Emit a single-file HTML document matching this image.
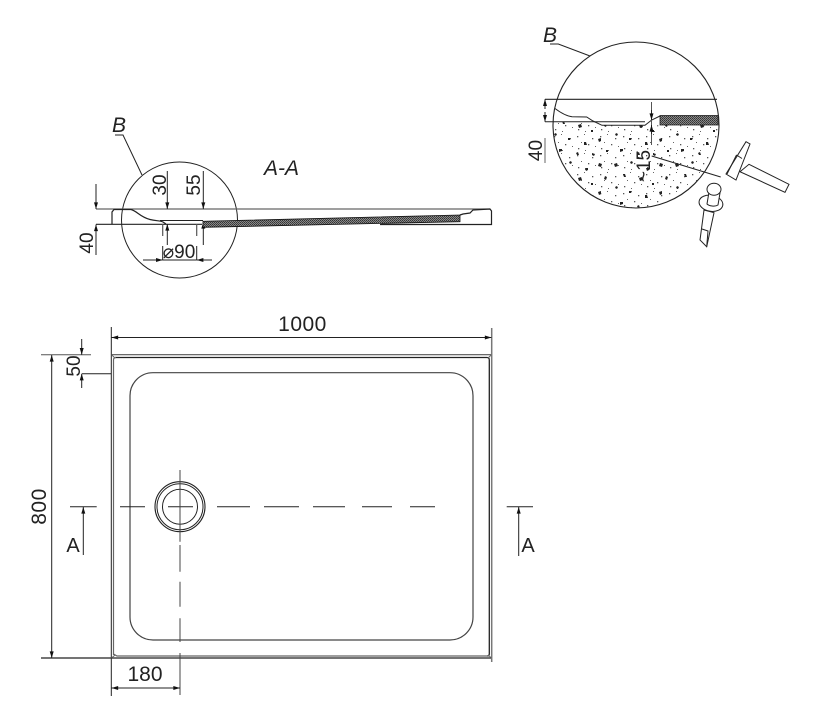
<!DOCTYPE html>
<html>
<head>
<meta charset="utf-8">
<style>
html,body{margin:0;padding:0;background:#fff;width:820px;height:727px;overflow:hidden}
svg{display:block}
text{font-family:"Liberation Sans",sans-serif;fill:#222}
</style>
</head>
<body>
<svg width="820" height="727" viewBox="0 0 820 727" xmlns="http://www.w3.org/2000/svg">
<defs>
<marker id="a" viewBox="0 0 8 6" refX="8" refY="3" markerWidth="7" markerHeight="5" markerUnits="userSpaceOnUse" orient="auto-start-reverse"><path d="M0 .6L8 3L0 5.4z" fill="#111"/></marker>
<pattern id="h" width="2" height="2" patternUnits="userSpaceOnUse"><rect width="2" height="2" fill="#888"/><rect width="1" height="1" fill="#333"/><rect x="1" y="1" width="1" height="1" fill="#444"/></pattern>
<pattern id="c1" width="61" height="53" patternUnits="userSpaceOnUse">
<path d="M4 5l3-1 1 3-3 1zM21 2l2 1-1 2-2-1zM36 9l3 0 0 2-2 1zM50 4l3 1-1 3-3-1zM13 15l2 0 1 3-2 0zM29 19l3-1 1 3-3 1zM42 24l2 0 0 2-2 0zM56 17l2 1-1 3-2-1zM6 27l2 1-1 2-2-1zM19 32l3 0-1 2-2 0zM35 36l2 0 1 3-3 0zM49 33l3-1 0 3-2 1zM10 43l3 0 0 2-3 1zM27 47l2-1 1 3-2 0zM43 47l3 1-1 2-2-1zM57 44l2 0 0 2-2 0z" fill="#222"/>
</pattern>
<pattern id="c2" width="23" height="19" patternUnits="userSpaceOnUse">
<rect x="2" y="3" width="1.3" height="1.3" fill="#555"/><rect x="9" y="1" width="1" height="1" fill="#666"/><rect x="17" y="5" width="1.3" height="1.3" fill="#555"/>
<rect x="6" y="9" width="1" height="1" fill="#666"/><rect x="13" y="11" width="1.3" height="1.3" fill="#555"/><rect x="20" y="13" width="1" height="1" fill="#666"/>
<rect x="3" y="15" width="1.3" height="1.3" fill="#555"/><rect x="10" y="17" width="1" height="1" fill="#666"/>
</pattern>
<clipPath id="cc"><path d="M553 125.5H719A83 82 0 0 1 553 125.5zM553 122H719V126H553z"/></clipPath>
</defs>

<!-- Section A-A -->
<g fill="none" stroke="#222" stroke-width="1">
<circle cx="179.5" cy="220" r="58"/>
<path d="M115 135H123L142 175"/>
<path d="M96 209H490" stroke="#666" stroke-width="1.3"/>
<path d="M96 224.3H202" stroke-width="1.2"/>
<path d="M112 224V212L114 209.5H131C137 211 140 217 150 219.5C156 221 160 220.5 163 222L166 224" stroke-width="1.2"/>
<path d="M160 220.5H203" stroke-width="1"/>
<path d="M162.7 224V236M196.7 224V236" stroke="#555" stroke-width="1.2"/>
<path d="M460 215L463 214L470 213L473 210L490 209L491.5 211V224.5H380" stroke-width="1.2"/>
<path d="M96 184V209" marker-end="url(#a)"/>
<path d="M96 255V224.5" marker-end="url(#a)"/>
<path d="M167.3 171V209" marker-end="url(#a)"/>
<path d="M167.3 245V224" marker-end="url(#a)"/>
<path d="M203.3 171V209" marker-end="url(#a)"/>
<path d="M203.3 245V222" marker-end="url(#a)"/>
<path d="M143 260H162.7" marker-end="url(#a)"/>
<path d="M212 260H196.7" marker-end="url(#a)"/>
<path d="M162.7 246V260M196.7 246V260M162.7 260H196.7"/>
</g>
<path d="M203 221.3L460 215V221.7L203 227.3z" fill="url(#h)" stroke="#111" stroke-width=".8"/>
<text x="112" y="132" font-size="21" font-style="italic">B</text>
<text x="264" y="175" font-size="21" font-style="italic">A-A</text>
<text transform="translate(93 243) rotate(-90)" font-size="19" text-anchor="middle">40</text>
<text transform="translate(166 185) rotate(-90)" font-size="19" text-anchor="middle">30</text>
<text transform="translate(200 185) rotate(-90)" font-size="19" text-anchor="middle">55</text>
<text x="179" y="258" font-size="19" text-anchor="middle">⌀90</text>

<!-- Detail B -->
<g clip-path="url(#cc)">
<rect x="553" y="122" width="166" height="90" fill="url(#c2)"/>
<rect x="553" y="122" width="166" height="90" fill="url(#c1)"/>
</g>
<path d="M593 118H660V125.3H602z" fill="#fff"/>
<rect x="660" y="115.5" width="58" height="9.5" fill="url(#h)" stroke="#222" stroke-width=".8"/>
<g fill="none" stroke="#222" stroke-width="1">
<circle cx="636" cy="125" r="83" stroke-width="1.1"/>
<path d="M550 44H558.3L590 56"/>
<path d="M545 99.3H717" stroke-width="1.2"/>
<path d="M545 121.7H645"/>
<path d="M555 108.5C561 113 566 116 572 116.7L586.7 117L593 121L602 125.3H645L651.7 120L660 116"/>
<path d="M651.5 102V145" stroke="#555"/>
<path d="M545 138V163" stroke="#666"/>
<path d="M545 109V99.3" marker-end="url(#a)"/>
<path d="M545 112V121.7" marker-end="url(#a)"/>
<path d="M651.5 110V120" marker-end="url(#a)"/>
<path d="M651.5 134V125" marker-end="url(#a)"/>
<path d="M651.7 156L720.7 177"/>
</g>
<text x="543" y="42" font-size="21" font-style="italic">B</text>
<text transform="translate(542 150.5) rotate(-90)" font-size="19" text-anchor="middle">40</text>
<text transform="translate(650 166) rotate(-90)" font-size="19" text-anchor="middle">~15</text>

<!-- Hammer and anchor -->
<g fill="#fff" stroke="#222" stroke-width="1">
<path d="M749 164.3L789 184.3L785 192.3L740 171.7z"/>
<path d="M746 141.7L750 144L736 180L726 174z"/>
<path d="M736.5 155L742 158.5M736.5 155L727 174"/>
<path d="M704 210L714 212.7L706.7 246.7L700 240z"/>
<path d="M702 229L708 231L706.7 246.7"/>
<ellipse cx="711" cy="203.3" rx="12" ry="8" transform="rotate(10 711 203)"/>
<path d="M709 192L707 204C709 206 715 207 718 205L720 193z"/>
<ellipse cx="714" cy="189.3" rx="7" ry="6"/>
</g>

<!-- Plan view -->
<g fill="none" stroke="#222" stroke-width="1">
<path d="M111.3 327V696"/>
<path d="M491.7 328V662" stroke="#777" stroke-width="1.5"/>
<path d="M41 354.7H91" stroke="#555"/>
<path d="M112 354.7H491" stroke="#555" stroke-width="1.2"/>
<path d="M115 357.5H487Q489.3 357.5 489.3 360V654Q489.3 656 487 656" stroke-width="1.3"/>
<path d="M113.5 655V360Q113.5 357.5 116 357.5" stroke="#666" stroke-width="1.2"/>
<path d="M113.5 654L117 656H489" stroke="#666" stroke-width="1.2"/>
<path d="M41 658H491" stroke-width="1.3"/>
<path d="M111.5 354.7L115 358M491.5 354.7L488 358M111.5 658L115 655M491.5 658L488 655" stroke="#666"/>
<rect x="130" y="372.7" width="343" height="267.3" rx="23" ry="23" stroke="#444" stroke-width="1.2"/>
<circle cx="180" cy="506.7" r="25" stroke-width="1.1"/>
<circle cx="180" cy="506.7" r="23" stroke-width="1"/>
<circle cx="180" cy="506.7" r="17.5" stroke-width="1"/>
<path d="M70 506.7H96.7M120 506.7H145M168 506.7H193M217 506.7H250M264 506.7H299M313 506.7H345M362 506.7H392M410 506.7H435M506.7 506.7H533"/>
<path d="M180 470V541.7M180 545V571.7M180 581.7V606.7M180 618.3V642M180 653V695" stroke="#444"/>
<path d="M111.5 337.5H491.5" marker-start="url(#a)" marker-end="url(#a)"/>
<path d="M51.7 355V658" marker-start="url(#a)" marker-end="url(#a)"/>
<path d="M111.5 688H180" marker-start="url(#a)" marker-end="url(#a)"/>
<path d="M81.7 339V354.7" marker-end="url(#a)"/>
<path d="M81.7 388V373.7" marker-end="url(#a)"/>
<path d="M82 373.7H111"/>
<path d="M83.3 555V507" marker-end="url(#a)"/>
<path d="M518.7 556V507" marker-end="url(#a)"/>
</g>
<text x="302.5" y="331" font-size="21" letter-spacing=".5" text-anchor="middle">1000</text>
<text x="145" y="681" font-size="21" text-anchor="middle">180</text>
<text transform="translate(46 506.5) rotate(-90)" font-size="21" letter-spacing=".5" text-anchor="middle">800</text>
<text transform="translate(80 366) rotate(-90)" font-size="19" text-anchor="middle">50</text>
<text x="73" y="552" font-size="20" text-anchor="middle">A</text>
<text x="528" y="552" font-size="20" text-anchor="middle">A</text>
</svg>
</body>
</html>
